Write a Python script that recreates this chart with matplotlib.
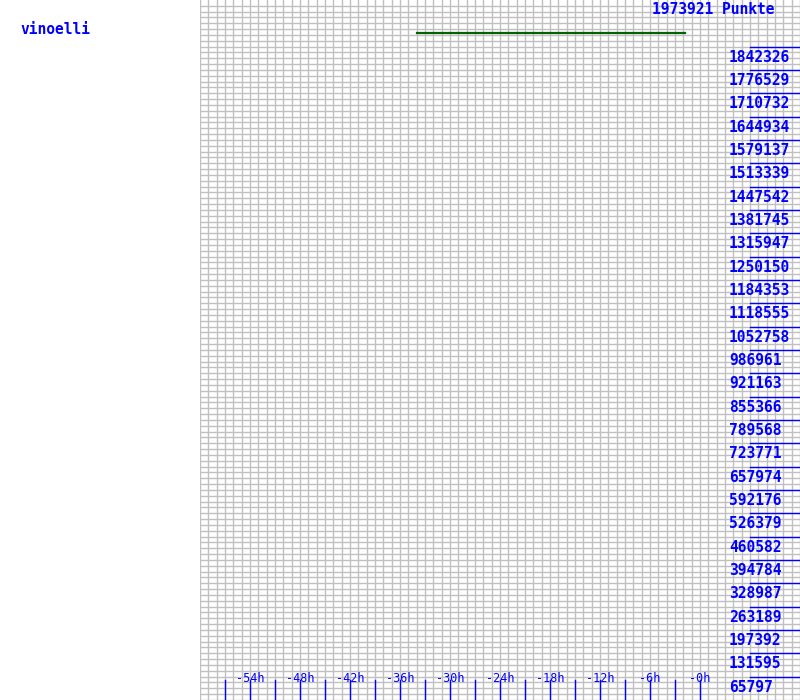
import numpy as np
import matplotlib
matplotlib.use("Agg")
import matplotlib.pyplot as plt

# data
player = "vinoelli"
punkte = 1973921
y_step = 65797.37
y_ticks = [65797, 131595, 197392, 263189, 328987, 394784, 460582, 526379, 592176,
           657974, 723771, 789568, 855366, 921163, 986961, 1052758, 1118555, 1184353,
           1250150, 1315947, 1381745, 1447542, 1513339, 1579137, 1644934, 1710732,
           1776529, 1842326]
x_labels = [-54, -48, -42, -36, -30, -24, -18, -12, -6, 0]
x_minor = list(range(-57, 1, 3))
line_hours = [-34.0, -1.8]
line_vals = [1881500, 1881500]

fig = plt.figure(figsize=(8, 7), dpi=100)
ax = fig.add_axes([0.25, 0, 0.75, 1])
ax.set_xlim(-60, 12)
ax.set_ylim(0, punkte)
ax.axis("off")

# grid
for h in range(-60, 13):
    ax.axvline(h, color="#c0c0c0", lw=1, zorder=1)
for v in np.arange(0, punkte, y_step / 4):
    ax.axhline(v, color="#c0c0c0", lw=1, zorder=1)

blue = "#0000ff"
mono = "DejaVu Sans Mono"

# y ticks (segments + labels)
for v in y_ticks:
    ax.plot([6, 12], [v, v], color=blue, lw=1, zorder=3)
    ax.annotate(str(v), (3.48, v), xytext=(0, -3), textcoords="offset pixels",
                ha="left", va="top", color=blue, fontsize=10.5, family=mono,
                weight="bold", zorder=4)

# x ticks
for h in x_minor:
    ax.plot([h, h], [0, punkte * 20 / 700], color=blue, lw=1, zorder=3)
for h in x_labels:
    ax.annotate("-%dh" % abs(h), (h, punkte * 18 / 700), ha="center", va="baseline",
                color=blue, fontsize=8.5, family=mono, zorder=4)

ax.plot(line_hours, line_vals, color="#006400", lw=1.6, zorder=5)

fig.text(774 / 800, 1 - 2 / 700, "%d Punkte" % punkte, ha="right", va="top",
         color=blue, fontsize=10.5, family=mono, weight="bold")
fig.text(20 / 800, 1 - 22 / 700, player, ha="left", va="top",
         color=blue, fontsize=10.5, family=mono, weight="bold")

fig.savefig("out.png", dpi=100)
